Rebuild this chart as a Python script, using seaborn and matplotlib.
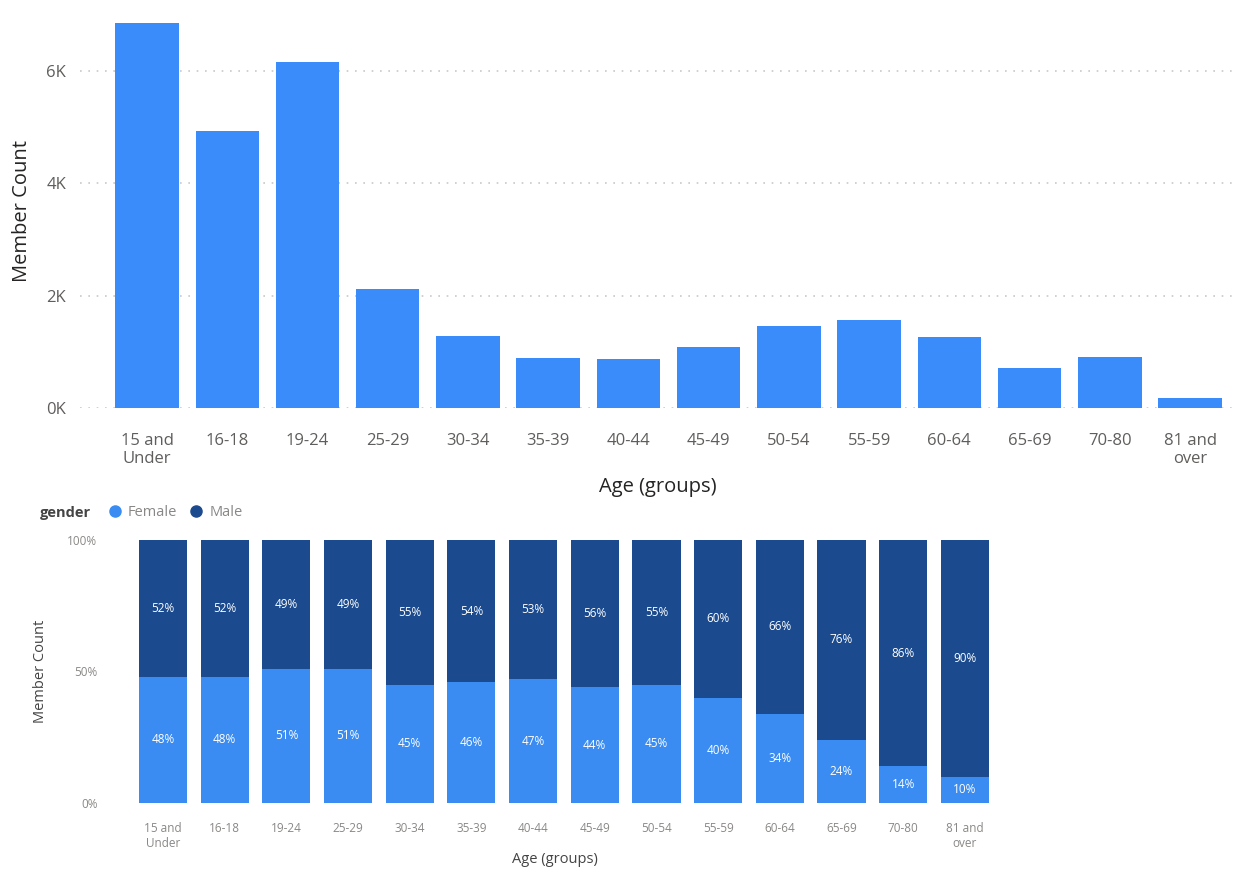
import matplotlib
matplotlib.use("Agg")
import matplotlib.pyplot as plt
import seaborn as sns
import pandas as pd
import numpy as np
from matplotlib.lines import Line2D

sns.set_theme(style="white")
plt.rcParams['font.family'] = ['Open Sans', 'DejaVu Sans']

# ---- data ----
age_groups = ["15 and\nUnder", "16-18", "19-24", "25-29", "30-34", "35-39", "40-44",
              "45-49", "50-54", "55-59", "60-64", "65-69", "70-80", "81 and\nover"]
member_count = [6850, 4930, 6160, 2120, 1280, 890, 870, 1090, 1460, 1570, 1260, 710, 900, 180]
female_pct = [48, 48, 51, 51, 45, 46, 47, 44, 45, 40, 34, 24, 14, 10]
male_pct = [52, 52, 49, 49, 55, 54, 53, 56, 55, 60, 66, 76, 86, 90]
y_ticks_top = [0, 2000, 4000, 6000]
y_ticklabels_top = ["0K", "2K", "4K", "6K"]
y_ticks_bot = [0, 0.5, 1.0]
y_ticklabels_bot = ["0%", "50%", "100%"]

C_TOP = "#3A8CFB"
C_FEMALE = "#3A8CF2"
C_MALE = "#1B4B8E"

W, H = 1241, 875
fig = plt.figure(figsize=(W / 100, H / 100), dpi=100)
fig.patch.set_facecolor("white")

def px_axes(left, top, right, bottom):
    return fig.add_axes([left / W, 1 - bottom / H, (right - left) / W, (bottom - top) / H])

# ---- top chart ----
ax1 = px_axes(80, 15, 1235, 408)
df_top = pd.DataFrame({"age": age_groups, "count": member_count})
sns.barplot(data=df_top, x="age", y="count", color=C_TOP, saturation=1, width=0.79,
            linewidth=0, ax=ax1, zorder=3)
ax1.set_xlim(-0.835, 13.56)
ax1.set_ylim(0, 7000)
ax1.set_yticks(y_ticks_top)
ax1.set_yticklabels(y_ticklabels_top)
for y in y_ticks_top:
    ax1.axhline(y, color="#C8C8C8", linestyle=(0, (1, 4)), linewidth=1.2, zorder=1)
for s in ax1.spines.values():
    s.set_visible(False)
ax1.tick_params(axis="both", length=0, labelsize=12, labelcolor="#605E5C")
ax1.tick_params(axis="x", pad=18)
ax1.tick_params(axis="y", pad=10)
ax1.set_xlabel("Age (groups)", fontsize=14.5, color="#252423", labelpad=7)
ax1.set_ylabel("Member Count", fontsize=14.5, color="#252423", labelpad=10)

# ---- bottom chart ----
ax2 = px_axes(110, 540, 1000, 803)
total = [f + m for f, m in zip(female_pct, male_pct)]
df_bot = pd.DataFrame({"age": age_groups,
                       "total": [t / 100 for t in total],
                       "female": [f / 100 for f in female_pct]})
sns.barplot(data=df_bot, x="age", y="total", color=C_MALE, saturation=1, width=0.78,
            linewidth=0, ax=ax2)
sns.barplot(data=df_bot, x="age", y="female", color=C_FEMALE, saturation=1, width=0.78,
            linewidth=0, ax=ax2)
for i, (f, m) in enumerate(zip(female_pct, male_pct)):
    ax2.text(i, f / 200, f"{f}%", ha="center", va="center", color="white", fontsize=8.5)
    ax2.text(i, (f + m / 2) / 100, f"{m}%", ha="center", va="center", color="white", fontsize=8.5)
ax2.set_xlim(-0.86, 13.57)
ax2.set_ylim(0, 1)
ax2.set_yticks(y_ticks_bot)
ax2.set_yticklabels(y_ticklabels_bot)
for s in ax2.spines.values():
    s.set_visible(False)
ax2.tick_params(axis="both", length=0, labelsize=8.5, labelcolor="#8A8886")
ax2.tick_params(axis="x", pad=14)
ax2.tick_params(axis="y", pad=9)
ax2.set_xlabel("Age (groups)", fontsize=10.5, color="#444444", labelpad=1)
ax2.set_ylabel("Member Count", fontsize=10.5, color="#444444", labelpad=14)

# legend
handles = [Line2D([], [], marker="o", linestyle="", markersize=8, color=C_FEMALE, label="Female"),
           Line2D([], [], marker="o", linestyle="", markersize=8, color=C_MALE, label="Male")]
leg = fig.legend(handles=handles, loc="center left", bbox_to_anchor=(100 / W, 1 - 513 / H),
                 ncol=2, frameon=False, fontsize=10.5, handletextpad=-0.1, columnspacing=0.3,
                 borderaxespad=0, borderpad=0)
for t in leg.get_texts():
    t.set_color("#8A8886")
fig.text(40 / W, 1 - 513 / H, "gender", fontsize=10.5, fontweight="bold", color="#444444",
         ha="left", va="center")

fig.savefig("out.png", dpi=100, facecolor="white")
